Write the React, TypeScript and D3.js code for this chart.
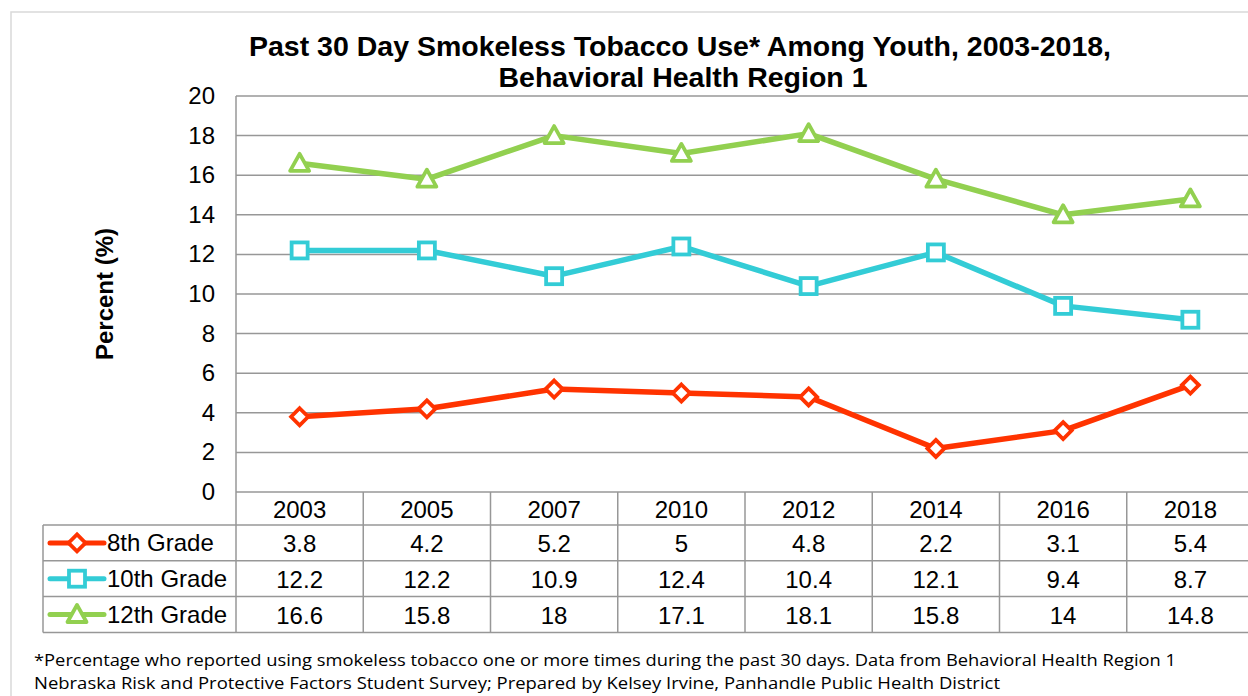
import React from "react";
import * as d3 from "d3";

const years = ["2003", "2005", "2007", "2010", "2012", "2014", "2016", "2018"];
const grade8 = [3.8, 4.2, 5.2, 5, 4.8, 2.2, 3.1, 5.4];
const grade10 = [12.2, 12.2, 10.9, 12.4, 10.4, 12.1, 9.4, 8.7];
const grade12 = [16.6, 15.8, 18, 17.1, 18.1, 15.8, 14, 14.8];
const yTicks = [0, 2, 4, 6, 8, 10, 12, 14, 16, 18, 20];
const seriesNames = ["8th Grade", "10th Grade", "12th Grade"];
const seriesColors = ["#FF3300", "#33CCD6", "#92D050"];
const seriesMarkers = ["diamond", "square", "triangle"];

const title1 = "Past 30 Day Smokeless Tobacco Use* Among Youth, 2003-2018,";
const title2 = "Behavioral Health Region 1";
const foot1 = "*Percentage who reported using smokeless tobacco one or more times during the past 30 days. Data from Behavioral Health Region 1";
const foot2 = "Nebraska Risk and Protective Factors Student Survey; Prepared by Kelsey Irvine, Panhandle Public Health District";

const W = 1248;
const H = 696;
const left = 236;
const right = 1254;
const top = 96;
const bottom = 492;

function Marker({ type, x, y, color }: { type: string; x: number; y: number; color: string }) {
  if (type === "diamond") {
    const s = 8.5;
    return (
      <path
        d={`M${x},${y - s}L${x + s},${y}L${x},${y + s}L${x - s},${y}Z`}
        fill="#fff"
        stroke={color}
        strokeWidth={3.8}
        strokeLinejoin="miter"
      />
    );
  }
  if (type === "square") {
    const s = 8;
    return <rect x={x - s} y={y - s} width={2 * s} height={2 * s} fill="#fff" stroke={color} strokeWidth={3.8} />;
  }
  const s = 8.5;
  return (
    <path
      d={`M${x},${y - s - 1}L${x + s + 1},${y + s - 1}L${x - s - 1},${y + s - 1}Z`}
      fill="#fff"
      stroke={color}
      strokeWidth={3.8}
      strokeLinejoin="round"
    />
  );
}

export default function App() {
  const x = d3.scaleBand<string>().domain(years).range([left, right]);
  const y = d3.scaleLinear().domain([0, 20]).range([bottom, top]);
  const all = [grade8, grade10, grade12];
  const line = d3
    .line<number>()
    .x((_, i) => (x(years[i]) as number) + x.bandwidth() / 2)
    .y((d) => y(d));

  const rowTop = 525;
  const rowH = 35.8;
  const tableLeft = 43;
  const gridColor = "#979797";
  const footFont = "'URW Gothic', 'Century Gothic', 'Open Sans', sans-serif";

  return (
    <svg width={W} height={H} style={{ position: "absolute", left: 0, top: 0, fontFamily: "'Liberation Sans', Arial, sans-serif" }}>
      <rect x={0} y={0} width={W} height={H} fill="#fff" />
      <rect x={11} y={12} width={1300} height={700} fill="#fff" stroke="#d9d9d9" strokeWidth={1.5} />
      <text x={680} y={56} textAnchor="middle" fontSize={28.5} fontWeight="bold" fill="#000" textLength={862} lengthAdjust="spacingAndGlyphs">{title1}</text>
      <text x={683} y={87} textAnchor="middle" fontSize={28.5} fontWeight="bold" fill="#000">{title2}</text>

      {yTicks.map((t) => (
        <g key={t}>
          <line x1={left} x2={W} y1={y(t)} y2={y(t)} stroke={gridColor} strokeWidth={1.5} />
          <text x={215} y={y(t) + 8} textAnchor="end" fontSize={24} fill="#000">{t}</text>
        </g>
      ))}
      <line x1={left} x2={left} y1={top} y2={bottom} stroke={gridColor} strokeWidth={1.5} />
      <text transform={`translate(113,${(top + bottom) / 2}) rotate(-90)`} textAnchor="middle" fontSize={24} fontWeight="bold">Percent (%)</text>

      {/* table */}
      {years.map((yr, i) => {
        const x0 = x(yr) as number;
        return (
          <g key={yr}>
            <line x1={x0} x2={x0} y1={bottom} y2={rowTop + 3 * rowH} stroke={gridColor} strokeWidth={1.5} />
            <text x={x0 + x.bandwidth() / 2} y={bottom + 26} textAnchor="middle" fontSize={24}>{yr}</text>
            {all.map((s, j) => (
              <text key={j} x={x0 + x.bandwidth() / 2} y={rowTop + j * rowH + 27} textAnchor="middle" fontSize={24}>{s[i]}</text>
            ))}
          </g>
        );
      })}
      {[0, 1, 2, 3].map((k) => (
        <line key={k} x1={tableLeft} x2={W} y1={rowTop + k * rowH} y2={rowTop + k * rowH} stroke={gridColor} strokeWidth={1.5} />
      ))}
      <line x1={tableLeft} x2={tableLeft} y1={rowTop} y2={rowTop + 3 * rowH} stroke={gridColor} strokeWidth={1.5} />
      {seriesNames.map((n, j) => {
        const cy = rowTop + j * rowH + rowH / 2;
        return (
          <g key={n}>
            <line x1={50} x2={104} y1={cy} y2={cy} stroke={seriesColors[j]} strokeWidth={5} strokeLinecap="round" />
            <Marker type={seriesMarkers[j]} x={77} y={cy} color={seriesColors[j]} />
            <text x={107} y={cy + 8} fontSize={24}>{n}</text>
          </g>
        );
      })}

      {all.map((s, j) => (
        <g key={j}>
          <path d={line(s) || ""} fill="none" stroke={seriesColors[j]} strokeWidth={5.5} strokeLinejoin="round" />
          {s.map((v, i) => (
            <Marker key={i} type={seriesMarkers[j]} x={(x(years[i]) as number) + x.bandwidth() / 2} y={y(v)} color={seriesColors[j]} />
          ))}
        </g>
      ))}

      <text x={34} y={666} fontSize={17} fontFamily={footFont} textLength={1142} lengthAdjust="spacingAndGlyphs">{foot1}</text>
      <text x={34} y={689} fontSize={17} fontFamily={footFont} textLength={966} lengthAdjust="spacingAndGlyphs">{foot2}</text>
    </svg>
  );
}
